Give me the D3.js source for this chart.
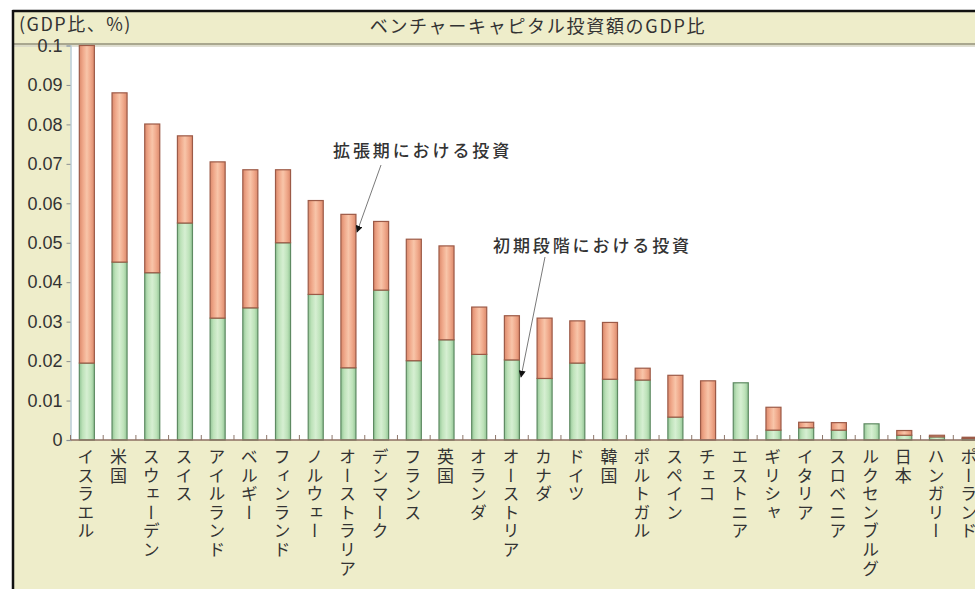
<!DOCTYPE html>
<html>
<head>
<meta charset="utf-8">
<script src="https://cdn.jsdelivr.net/npm/d3@7"></script>
<style>
  html, body { margin: 0; padding: 0; background: #fff; }
  svg { display: block; }
  .jp { font-family: "Noto Sans CJK JP", "Noto Sans", sans-serif; }
  .num { font-family: "Liberation Sans", Arial, sans-serif; }
</style>
</head>
<body>
<svg id="chart" width="975" height="589"></svg>
<script>
// Venture capital investment as a share of GDP, by country (%)
const countries = [
  "イスラエル", "米国", "スウェーデン", "スイス", "アイルランド", "ベルギー",
  "フィンランド", "ノルウェー", "オーストラリア", "デンマーク", "フランス", "英国",
  "オランダ", "オーストリア", "カナダ", "ドイツ", "韓国", "ポルトガル",
  "スペイン", "チェコ", "エストニア", "ギリシャ", "イタリア", "スロベニア",
  "ルクセンブルグ", "日本", "ハンガリー", "ポーランド"
];
// early-stage investment (lower, green segment)
const earlyStage = [
  0.0195, 0.0451, 0.0424, 0.0550, 0.0309, 0.0335,
  0.0500, 0.0369, 0.0183, 0.0380, 0.0201, 0.0254,
  0.0217, 0.0203, 0.0156, 0.0195, 0.0154, 0.0152,
  0.0058, 0.0000, 0.0145, 0.0025, 0.0031, 0.0025,
  0.0041, 0.0012, 0.0008, 0.0004
];
// expansion-stage investment (upper, orange segment)
const expansion = [
  0.0805, 0.0429, 0.0377, 0.0221, 0.0396, 0.0350,
  0.0185, 0.0238, 0.0389, 0.0174, 0.0308, 0.0238,
  0.0120, 0.0112, 0.0153, 0.0107, 0.0144, 0.0030,
  0.0106, 0.0150, 0.0000, 0.0058, 0.0014, 0.0019,
  0.0000, 0.0012, 0.0004, 0.0003
];
const yTicks = [0, 0.01, 0.02, 0.03, 0.04, 0.05, 0.06, 0.07, 0.08, 0.09, 0.1];
const titleText = "ベンチャーキャピタル投資額のGDP比";
const unitText = "(GDP比、%)";
const noteExpansion = "拡張期における投資";
const noteEarly = "初期段階における投資";

const rows = countries.map((c, i) => ({ country: c, early: earlyStage[i], expansion: expansion[i] }));

const svg = d3.select("#chart");
const W = 975, H = 589;
const plot = { left: 70.5, right: 986, top: 45.5, bottom: 440 };
const beige = "#eeedca";

// frame and panels
svg.append("rect").attr("x", 13).attr("y", 11).attr("width", W).attr("height", H)
  .attr("fill", beige);
svg.append("rect").attr("x", plot.left).attr("y", plot.top)
  .attr("width", plot.right - plot.left).attr("height", plot.bottom - plot.top)
  .attr("fill", "#ffffff");
svg.append("line").attr("x1", 13).attr("x2", W).attr("y1", 44).attr("y2", 44)
  .attr("stroke", "#a9a78f").attr("stroke-width", 2);
svg.append("line").attr("x1", 13).attr("x2", W).attr("y1", 46).attr("y2", 46)
  .attr("stroke", "#d6d5c6").attr("stroke-width", 1.5);
svg.append("line").attr("x1", 12.5).attr("x2", W).attr("y1", 11).attr("y2", 11)
  .attr("stroke", "#111").attr("stroke-width", 2.5);
svg.append("line").attr("x1", 13).attr("x2", 13).attr("y1", 10).attr("y2", H)
  .attr("stroke", "#111").attr("stroke-width", 2.5);

// scales
const x = d3.scaleBand().domain(countries).range([plot.left, plot.right])
  .paddingInner(0.54).paddingOuter(0.27);
const y = d3.scaleLinear().domain([0, 0.1]).range([plot.bottom, plot.top]);

// bar gradients
const defs = svg.append("defs");
function grad(id, stops) {
  const g = defs.append("linearGradient").attr("id", id)
    .attr("x1", "0").attr("x2", "1").attr("y1", "0").attr("y2", "0");
  stops.forEach(([o, c]) => g.append("stop").attr("offset", o).attr("stop-color", c));
}
grad("gGreen", [["0%", "#93c596"], ["22%", "#bde2b9"], ["50%", "#d6efd2"], ["78%", "#bde2b9"], ["100%", "#93c596"]]);
grad("gOrange", [["0%", "#dc8a6c"], ["25%", "#f0a98b"], ["50%", "#f8c5a9"], ["75%", "#f0a98b"], ["100%", "#dc8a6c"]]);

const series = d3.stack().keys(["early", "expansion"])(rows);
const fills = { early: "url(#gGreen)", expansion: "url(#gOrange)" };
const strokes = { early: "#5e8a62", expansion: "#9c5a47" };

svg.append("g").selectAll("g").data(series).join("g")
  .each(function (s) {
    d3.select(this).selectAll("rect").data(s.filter(d => d[1] - d[0] > 0)).join("rect")
      .attr("x", d => x(d.data.country))
      .attr("width", x.bandwidth())
      .attr("y", d => y(Math.min(d[1], 0.1)))
      .attr("height", d => y(d[0]) - y(Math.min(d[1], 0.1)))
      .attr("fill", fills[s.key])
      .attr("stroke", strokes[s.key])
      .attr("stroke-width", 1.2);
  });

// left axis
const yAxis = svg.append("g").attr("transform", `translate(${plot.left},0)`)
  .call(d3.axisLeft(y).tickValues(yTicks).tickSize(4).tickPadding(4)
    .tickFormat(d => d === 0 ? "0" : (d === 0.1 ? "0.1" : d3.format(".2f")(d))));
yAxis.select(".domain").attr("stroke", "#b9cbd3").attr("stroke-width", 1.5);
yAxis.selectAll(".tick line").attr("stroke", "#8b8f90");
yAxis.selectAll(".tick text").attr("class", "num").attr("font-size", 18).attr("fill", "#333");

// bottom axis with ticks at the band boundaries
const gap = x.step() - x.bandwidth();
const bounds = countries.map(c => x(c) - gap / 2);
bounds.push(x(countries[countries.length - 1]) + x.bandwidth() + gap / 2);
svg.append("g").selectAll("line").data(bounds).join("line")
  .attr("x1", d => d).attr("x2", d => d)
  .attr("y1", plot.bottom - 5).attr("y2", plot.bottom)
  .attr("stroke", "#8d766a").attr("stroke-width", 1);
svg.append("line").attr("x1", plot.left).attr("x2", plot.right)
  .attr("y1", plot.bottom).attr("y2", plot.bottom)
  .attr("stroke", "#8d6f62").attr("stroke-width", 1.6);

// category labels, set vertically one character per 18.6px
const pitch = 18.6, labelTop = 448;
const labels = svg.append("g").selectAll("g").data(countries).join("g")
  .attr("transform", d => `translate(${x(d) + x.bandwidth() / 2 - 1},${labelTop})`);
labels.selectAll("text").data(d => Array.from(d)).join("text")
  .attr("class", "jp")
  .attr("x", 0)
  .attr("y", (_, i) => i * pitch)
  .attr("font-size", 17)
  .attr("fill", "#333")
  .style("writing-mode", "vertical-rl")
  .text(ch => ch);

// title and unit
svg.append("text").attr("class", "jp").attr("x", 538).attr("y", 33)
  .attr("text-anchor", "middle").attr("font-size", 18).attr("letter-spacing", 1.7)
  .attr("fill", "#333").text(titleText);
svg.append("text").attr("class", "jp").attr("x", 19).attr("y", 31)
  .attr("font-size", 18).attr("letter-spacing", 1.5).attr("fill", "#333").text(unitText);

// annotations with arrows
defs.append("marker").attr("id", "arrow").attr("viewBox", "0 0 10 10")
  .attr("refX", 9).attr("refY", 5).attr("markerWidth", 7).attr("markerHeight", 7)
  .attr("markerUnits", "userSpaceOnUse").attr("orient", "auto")
  .append("path").attr("d", "M0,0 L10,5 L0,10 Z").attr("fill", "#111");

function note(text, tx, ty, p0, p1) {
  svg.append("text").attr("class", "jp").attr("x", tx).attr("y", ty)
    .attr("font-size", 17).attr("letter-spacing", 2.9).attr("font-weight", 500)
    .attr("fill", "#333").text(text);
  svg.append("line").attr("x1", p0[0]).attr("y1", p0[1]).attr("x2", p1[0]).attr("y2", p1[1])
    .attr("stroke", "#7a7a7a").attr("stroke-width", 1)
    .attr("marker-end", "url(#arrow)");
}
note(noteExpansion, 333, 157, [381, 165], [357, 232]);
note(noteEarly, 493, 252, [545, 257], [521, 377]);
</script>
</body>
</html>
